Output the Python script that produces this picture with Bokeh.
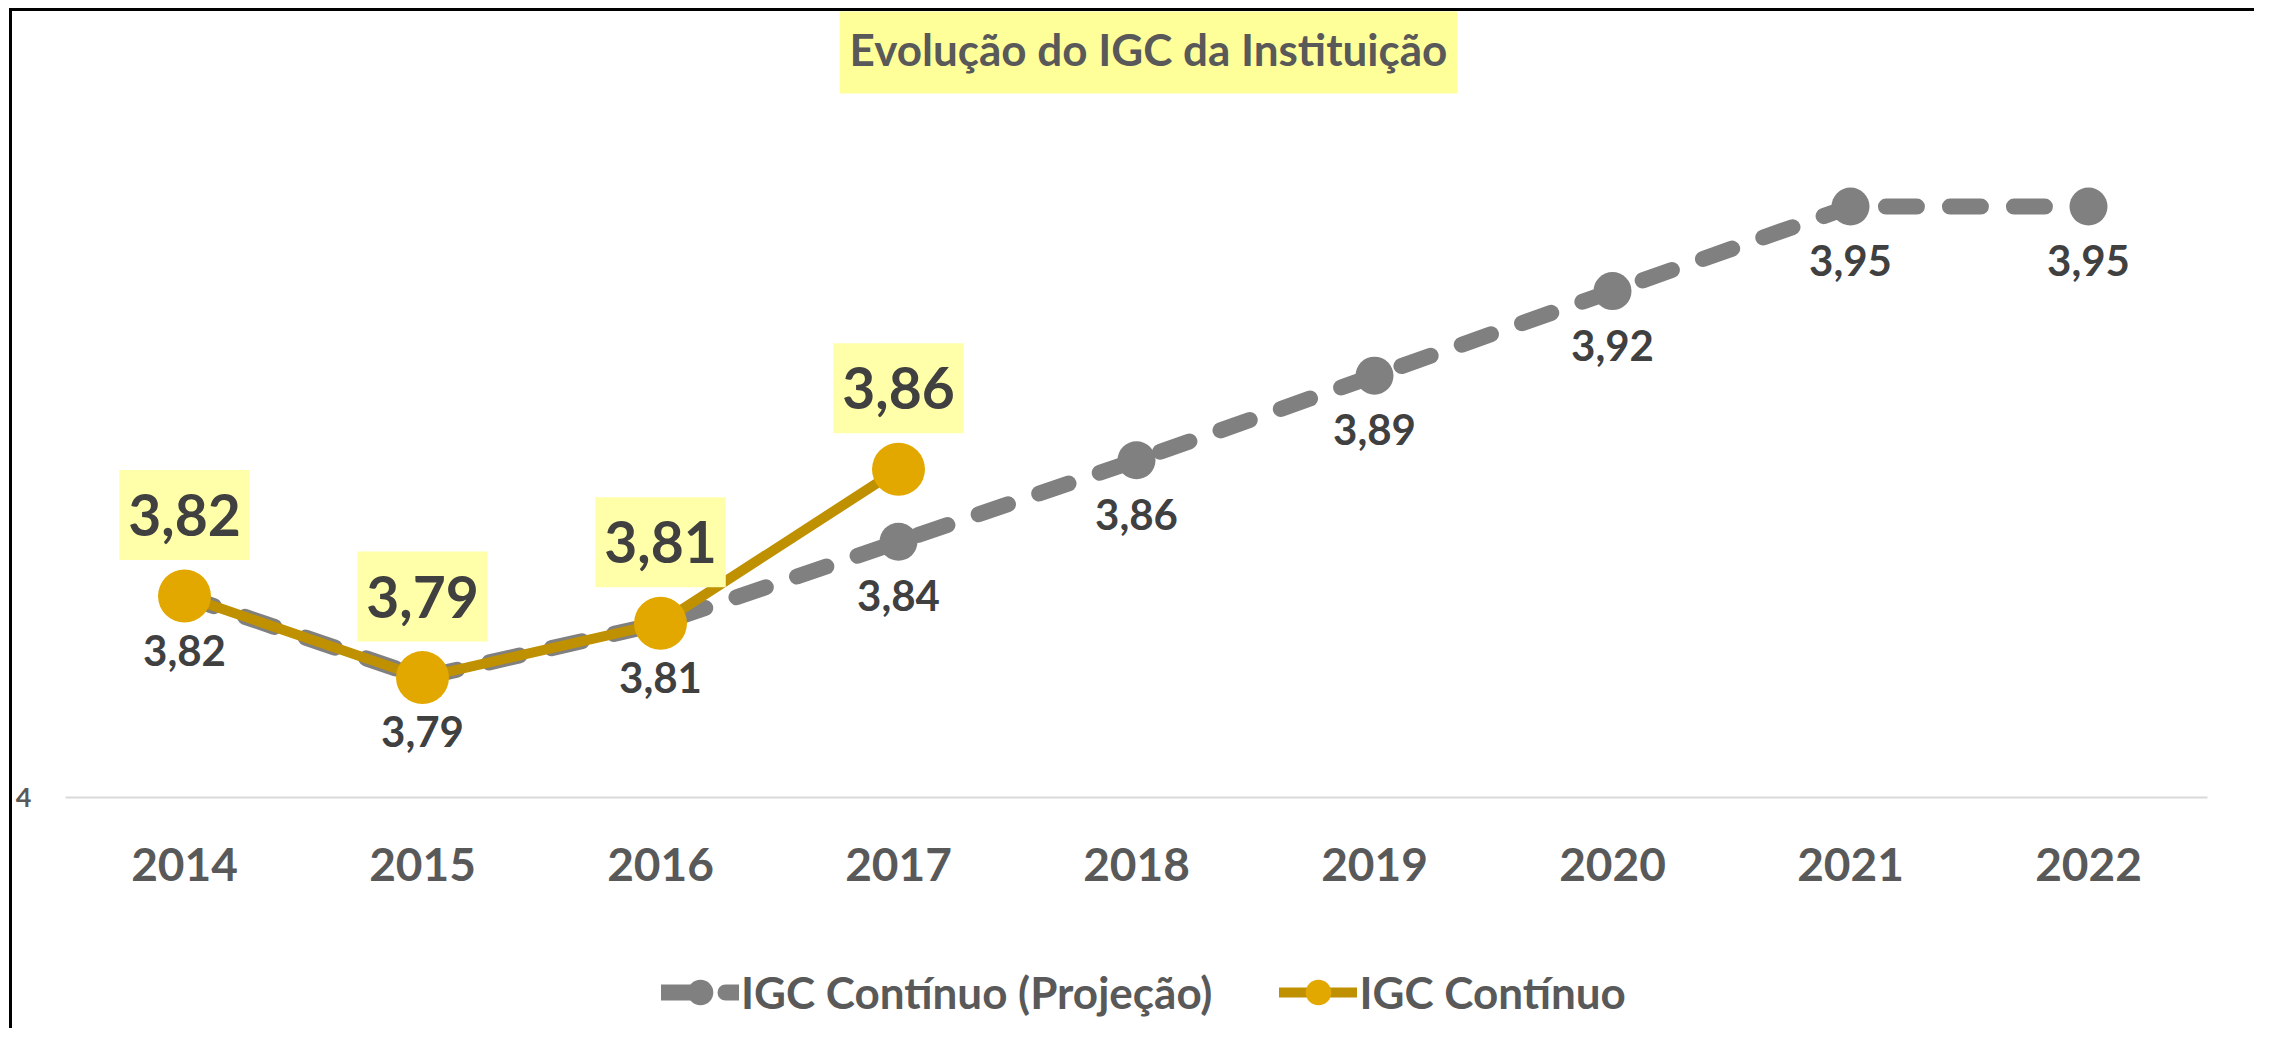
from bokeh.plotting import figure
from bokeh.layouts import column
from bokeh.models import Label, Legend, LegendItem, FixedTicker, Range1d, FactorRange
from bokeh.core.properties import value
from bokeh.embed import file_html
from bokeh.resources import INLINE

# ---- data ----
years = ["2014", "2015", "2016", "2017", "2018", "2019", "2020", "2021", "2022"]
igc_projecao = [3.819, 3.792, 3.810, 3.837, 3.864, 3.892, 3.920, 3.948, 3.948]
years_continuo = ["2014", "2015", "2016", "2017"]
igc_continuo = [3.819, 3.792, 3.810, 3.861]
y_min, y_max = 3.7523, 4.0126
y_ticks = [y_min]
y_tick_labels = {y_min: "4"}
title_text = "Evolução do IGC da Instituição"
serie_proj_name = "IGC Contínuo (Projeção)"
serie_cont_name = "IGC Contínuo"

def fmt(v):
    return f"{v:.2f}".replace(".", ",")

proj_labels = [fmt(v) for v in igc_projecao]
cont_labels = [fmt(v) for v in igc_continuo]

FONT = "Lato"
GRAY = "#808080"
GOLD_LINE = "#BF9000"
GOLD_FILL = "#E2A800"
TXT_DARK = "#404040"
TXT_AXIS = "#595959"
W = 2245

p = figure(x_range=years, y_range=(y_min, y_max), width=W, height=930,
           output_backend="svg", toolbar_location=None,
           min_border_left=53, min_border_right=50, min_border_top=0, min_border_bottom=144)
p.styles = {"border-left": "3px solid #000", "border-top": "3px solid #000"}
p.outline_line_color = None
p.xgrid.visible = False
p.ygrid.visible = False

# x axis
xa = p.xaxis[0]
xa.axis_line_color = "#D9D9D9"
xa.axis_line_width = 2
xa.major_tick_line_color = None
xa.minor_tick_line_color = None
xa.major_tick_out = 0
xa.major_tick_in = 0
xa.major_label_text_font = FONT
xa.major_label_text_font_style = "bold"
xa.major_label_text_font_size = "46px"
xa.major_label_text_color = TXT_AXIS
xa.major_label_standoff = 50

# y axis
ya = p.yaxis[0]
ya.ticker = FixedTicker(ticks=y_ticks)
ya.major_label_overrides = y_tick_labels
ya.axis_line_color = None
ya.major_tick_line_color = None
ya.minor_tick_line_color = None
ya.major_tick_out = 0
ya.major_tick_in = 0
ya.major_label_text_font = FONT
ya.major_label_text_font_style = "bold"
ya.major_label_text_font_size = "27px"
ya.major_label_text_color = TXT_AXIS
ya.major_label_standoff = 34

# projection series
line_proj = dict(line_color=GRAY, line_width=16, line_dash="31 33", line_cap="round", line_join="round")
mark_proj = dict(size=38, fill_color=GRAY, line_color=None)
p.line(years, igc_projecao, **line_proj)
p.scatter(years, igc_projecao, **mark_proj)
p.text(years, igc_projecao, text=proj_labels, y_offset=54, text_align="center",
       text_baseline="middle", text_font=value(FONT), text_font_style="bold",
       text_font_size="42px", text_color=TXT_DARK)

# continuous series
line_cont = dict(line_color=GOLD_LINE, line_width=10, line_join="round", line_cap="round")
mark_cont = dict(size=53, fill_color=GOLD_FILL, line_color=None)
p.line(years_continuo, igc_continuo, **line_cont)
p.scatter(years_continuo, igc_continuo, **mark_cont)
p.text(years_continuo, igc_continuo, text=cont_labels, y_offset=-81, text_align="center",
       text_baseline="middle", text_font=value(FONT), text_font_style="bold",
       text_font_size="57px", text_color=TXT_DARK,
       background_fill_color="#FFFFAA",
       padding=dict(left=9, right=9, top=24, bottom=24))

# title
title = Label(x=4.5, y=y_max, x_offset=12, y_offset=-37, text=title_text,
              text_align="center", text_baseline="middle", text_font=FONT,
              text_font_style="bold", text_font_size="44px", text_color=TXT_AXIS,
              background_fill_color="#FFFF99",
              padding=dict(left=10, right=10, top=19, bottom=19))
p.add_layout(title)

# legend (separate strip below the chart; series drawn out of view)
leg = figure(width=W, height=90, output_backend="svg", toolbar_location=None,
             x_axis_type=None, y_axis_type=None, min_border=0,
             x_range=FactorRange(*years), y_range=Range1d(0, 1))
leg.styles = {"border-left": "3px solid #000"}
leg.outline_line_color = None
leg.xgrid.visible = False
leg.ygrid.visible = False
lp = leg.line(years, igc_projecao, **line_proj)
mp = leg.scatter(years, igc_projecao, **mark_proj)
lc = leg.line(years_continuo, igc_continuo, **line_cont)
mc = leg.scatter(years_continuo, igc_continuo, **mark_cont)
legend = Legend(items=[LegendItem(label=serie_proj_name, renderers=[lp, mp]),
                       LegendItem(label=serie_cont_name, renderers=[lc, mc])],
                orientation="horizontal", location=(596, 4),
                glyph_width=78, glyph_height=64, label_standoff=2, spacing=67,
                label_text_font=FONT, label_text_font_style="bold",
                label_text_font_size="44px", label_text_color=TXT_AXIS,
                border_line_color=None, background_fill_alpha=0, padding=0, margin=0)
leg.add_layout(legend)

layout = column(p, leg, spacing=0)
layout.styles = {"margin-left": "9px", "margin-top": "8px"}
open("out.html", "w").write(file_html(layout, INLINE))
